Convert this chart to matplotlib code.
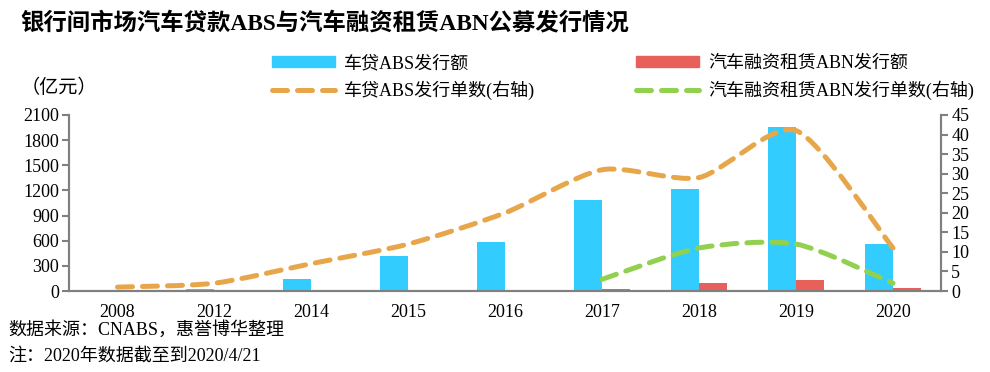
import numpy as np
import matplotlib
matplotlib.use('Agg')
import matplotlib.pyplot as plt
from matplotlib.path import Path
from matplotlib.patches import PathPatch, Patch
from matplotlib.lines import Line2D

plt.rcParams['font.family'] = ['Liberation Serif', 'Noto Sans CJK SC']

years = ['2008', '2012', '2014', '2015', '2016', '2017', '2018', '2019', '2020']
abs_amount = [15, 25, 148, 422, 581, 1086, 1217, 1962, 557]
abn_amount = [0, 0, 0, 0, 0, 20, 92, 136, 36]
abs_count = [1, 2, 7, 12, 20, 31, 29, 41, 11]
abn_years = ['2017', '2018', '2019', '2020']
abn_count = [3, 11, 12, 2]

c_blue = '#33CCFF'
c_red = '#E8605A'
c_orange = '#E8A64B'
c_green = '#92D050'
c_axis = '#808080'


def smooth_path(xs, ys, k=8.0):
    # bezier curve through the points, like excel smoothed lines
    pts = np.column_stack([xs, ys]).astype(float)
    n = len(pts)
    verts = [pts[0]]
    codes = [Path.MOVETO]
    for i in range(n - 1):
        p0 = pts[max(i - 1, 0)]
        p1 = pts[i]
        p2 = pts[i + 1]
        p3 = pts[min(i + 2, n - 1)]
        verts += [p1 + (p2 - p0) / k, p2 - (p3 - p1) / k, p2]
        codes += [Path.CURVE4] * 3
    return Path(verts, codes)


fig = plt.figure(figsize=(9.9, 3.72), dpi=100)
ax = fig.add_axes([0.0697, 0.2177, 0.8813, 0.4733])
ax2 = ax.twinx()

x = np.arange(len(years))
w = 0.29
ax.bar(x - w, abs_amount, w, align='edge', color=c_blue, zorder=2)
ax.bar(x, abn_amount, w, align='edge', color=c_red, zorder=2)

line_kw = dict(fill=False, lw=3.6, capstyle='round', linestyle=(0, (3, 2)))
ax2.add_patch(PathPatch(smooth_path(x, abs_count), edgecolor=c_orange, **line_kw))
xg = [years.index(y) for y in abn_years]
ax2.add_patch(PathPatch(smooth_path(xg, abn_count), edgecolor=c_green, **line_kw))

ax.set_xlim(-0.5, len(years) - 0.5)
ax.set_ylim(0, 2100)
ax.set_yticks(np.arange(0, 2101, 300))
ax2.set_ylim(0, 45)
ax2.set_yticks(np.arange(0, 46, 5))
ax.set_xticks(x)
ax.set_xticklabels(years)

for a in (ax, ax2):
    a.spines['top'].set_visible(False)
    for s in ('left', 'right', 'bottom'):
        a.spines[s].set_color(c_axis)
        a.spines[s].set_linewidth(1.5)
    a.tick_params(axis='y', colors=c_axis, labelcolor='black', labelsize=13,
                  length=5, width=1.5, direction='out', pad=2)
ax.tick_params(axis='x', length=0, labelsize=13, pad=9)

fig.text(0.02, 1 - 23 / 372, '银行间市场汽车贷款ABS与汽车融资租赁ABN公募发行情况',
         fontsize=16.8, fontweight='bold', va='center', ha='left')
fig.text(0.021, 1 - 88 / 372, '（亿元）', fontsize=13.8, va='center', ha='left')

h1 = [Patch(color=c_blue, label='车贷ABS发行额'),
      Line2D([], [], color=c_orange, lw=3.6, dash_capstyle='round',
             linestyle=(0, (3, 2)), label='车贷ABS发行单数(右轴)')]
h2 = [Patch(color=c_red, label='汽车融资租赁ABN发行额'),
      Line2D([], [], color=c_green, lw=3.6, dash_capstyle='round',
             linestyle=(0, (3, 2)), label='汽车融资租赁ABN发行单数(右轴)')]
leg_kw = dict(loc='upper left', frameon=False, fontsize=13, handlelength=3.5,
              handleheight=0.6, handletextpad=0.5, labelspacing=0.5,
              borderaxespad=0, borderpad=0)
fig.legend(handles=h1, bbox_to_anchor=(272 / 990, 1 - 55 / 372), **leg_kw)
fig.legend(handles=h2, bbox_to_anchor=(636 / 990, 1 - 55 / 372), **leg_kw)

fig.text(0.008, 1 - 330 / 372, '数据来源：CNABS，惠誉博华整理', fontsize=13,
         va='center', ha='left')
fig.text(0.008, 1 - 356 / 372, '注：2020年数据截至到2020/4/21', fontsize=13,
         va='center', ha='left')

fig.savefig('out.png', dpi=100)
